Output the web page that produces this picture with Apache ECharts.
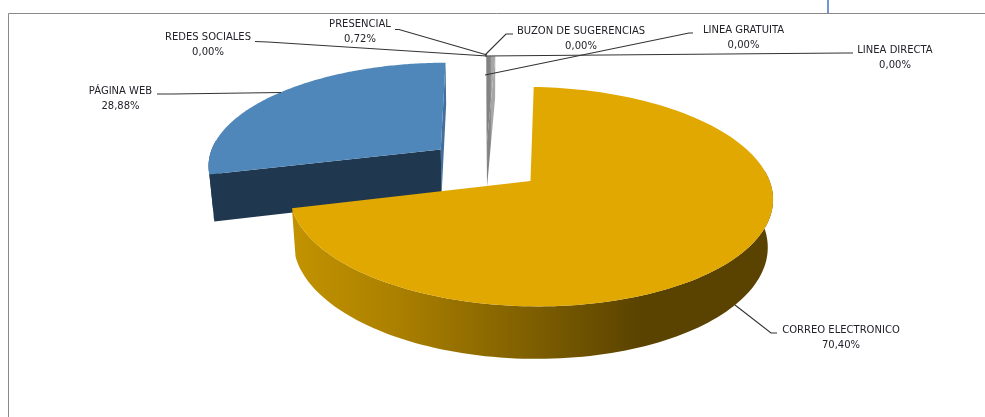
<!DOCTYPE html>
<html>
<head>
<meta charset="utf-8">
<style>html,body{margin:0;padding:0;background:#fff}#chart{width:985px;height:417px}</style>
<script src="https://cdn.jsdelivr.net/npm/echarts@6/dist/echarts.min.js"></script>
</head>
<body>
<div id="chart"></div>
<script>
// Channel shares, clockwise from the top of the pie.
const categories = ['CORREO ELECTRONICO', 'PÁGINA WEB', 'REDES SOCIALES', 'PRESENCIAL', 'BUZON DE SUGERENCIAS', 'LINEA GRATUITA', 'LINEA DIRECTA'];
const values = [70.40, 28.88, 0, 0.72, 0, 0, 0];

// Perspective camera for the tilted pie.
const camera = { cx: 486, cy: 165, scaleX: 234, scaleY: 103, depth: 47.5, tilt: 0.14, converge: 0.018 };
const explode = 0.24;
const startDeg = 2.4;

// Label centre and leader polyline for each category.
const labelLayout = [
  { x: 841, y: 337.5, line: [[777, 333], [771, 333], [735, 305]] },
  { x: 120.5, y: 98.5, line: [[157, 94], [172, 94], [281, 92.5]] },
  { x: 208, y: 44.5, line: [[255, 41.5], [268, 42], [487, 56]] },
  { x: 360, y: 31.5, line: [[395, 29.5], [399, 29.5], [487, 55]] },
  { x: 581, y: 38.5, line: [[513, 34], [506, 34], [485, 55]] },
  { x: 743.5, y: 37.5, line: [[693, 33], [689, 33], [485, 75]] },
  { x: 895, y: 57.5, line: [[853, 53], [845, 53], [485, 56]] }
];

const sliceStyle = {
  0: {
    top: '#e0a800',
    wall: new echarts.graphic.LinearGradient(293, 0, 640, 0, [
      { offset: 0, color: '#c29200' },
      { offset: 0.3, color: '#ab8000' },
      { offset: 0.68, color: '#7f5f00' },
      { offset: 1, color: '#5a4300' }
    ], true),
    face: null, z: 3, pull: explode
  },
  1: { top: '#4f87ba', wall: '#1f3850', face: '#1f3850', endFace: '#426f9c', z: 1, pull: explode + 0.01 },
  3: {
    top: new echarts.graphic.LinearGradient(486, 0, 496, 0, [
      { offset: 0, color: '#7f7f7f' },
      { offset: 0.42, color: '#858585' },
      { offset: 0.55, color: '#a6a6a6' },
      { offset: 1, color: '#a6a6a6' }
    ], true),
    z: 2, pull: explode
  }
};
sliceStyle[3].wall = sliceStyle[3].top;
sliceStyle[3].face = sliceStyle[3].top;
sliceStyle[3].endFace = sliceStyle[3].top;

function project(X, Y, d) {
  const w = 1 - camera.tilt * Y + camera.converge * d;
  return [camera.cx + camera.scaleX * X / w, camera.cy + (camera.scaleY * Y + camera.depth * d) / w];
}

function sliceAngles(index) {
  const total = values.reduce((a, b) => a + b, 0);
  let before = 0;
  for (let i = 0; i < index; i++) before += values[i];
  const a0 = startDeg + before / total * 360;
  return [a0, a0 + values[index] / total * 360];
}

function percentText(v) {
  return v.toFixed(2).replace('.', ',') + '%';
}

function renderSlice(params, api) {
  const i = params.dataIndex;
  const v = api.value(0);
  const children = [];
  const look = sliceStyle[i];
  if (v > 0 && look) {
    const [a0, a1] = sliceAngles(i).map(a => a * Math.PI / 180);
    const mid = (a0 + a1) / 2;
    const ox = look.pull * Math.sin(mid);
    const oy = -look.pull * Math.cos(mid);
    const at = (r, a, d) => project(ox + r * Math.sin(a), oy - r * Math.cos(a), d);
    const steps = 160;
    const rimTop = [], wallTop = [], wallBottom = [];
    for (let s = 0; s <= steps; s++) {
      const a = a0 + (a1 - a0) * s / steps;
      rimTop.push(at(1, a, 0));
      // Only the front of the outer wall can be seen.
      if (Math.cos(a) < 0.1) {
        wallTop.push(at(1, a, 0));
        wallBottom.push(at(1, a, 1));
      }
    }
    const quad = (a) => [at(0, a, 0), at(1, a, 0), at(1, a, 1), at(0, a, 1)];
    if (look.endFace) {
      children.push({ type: 'polygon', z2: look.z, shape: { points: quad(a1) }, style: { fill: look.endFace } });
    }
    if (wallTop.length) {
      children.push({ type: 'polygon', z2: look.z, shape: { points: wallTop.concat(wallBottom.reverse()) }, style: { fill: look.wall } });
    }
    if (look.face) {
      children.push({ type: 'polygon', z2: look.z, shape: { points: quad(a0) }, style: { fill: look.face } });
    }
    children.push({ type: 'polygon', z2: look.z, shape: { points: [at(0, a0, 0)].concat(rimTop) }, style: { fill: look.top } });
  }
  const lay = labelLayout[i];
  children.push({
    type: 'polyline', z2: 8, silent: true,
    shape: { points: lay.line },
    style: { stroke: '#333333', lineWidth: 1.1, fill: null }
  });
  children.push({
    type: 'text', z2: 9, silent: true,
    style: {
      text: categories[i] + '\n' + percentText(v),
      x: lay.x, y: lay.y, align: 'center', verticalAlign: 'middle',
      fontFamily: 'DejaVu Sans', fontSize: 10, lineHeight: 15, fill: '#22222a'
    }
  });
  return { type: 'group', children };
}

const chart = echarts.init(document.getElementById('chart'), null, { renderer: 'canvas' });
chart.setOption({
  animation: false,
  backgroundColor: '#ffffff',
  graphic: [
    { type: 'line', shape: { x1: 8.5, y1: 13.5, x2: 985, y2: 13.5 }, style: { stroke: '#8a8a8a', lineWidth: 1 } },
    { type: 'line', shape: { x1: 8.5, y1: 13.5, x2: 8.5, y2: 417 }, style: { stroke: '#8a8a8a', lineWidth: 1 } },
    { type: 'line', shape: { x1: 828, y1: 0, x2: 828, y2: 13 }, style: { stroke: '#4472c4', lineWidth: 1.5 } }
  ],
  series: [{
    type: 'custom',
    coordinateSystem: 'none',
    renderItem: renderSlice,
    data: values.map((v, i) => ({ name: categories[i], value: [v] }))
  }]
});
</script>
</body>
</html>
